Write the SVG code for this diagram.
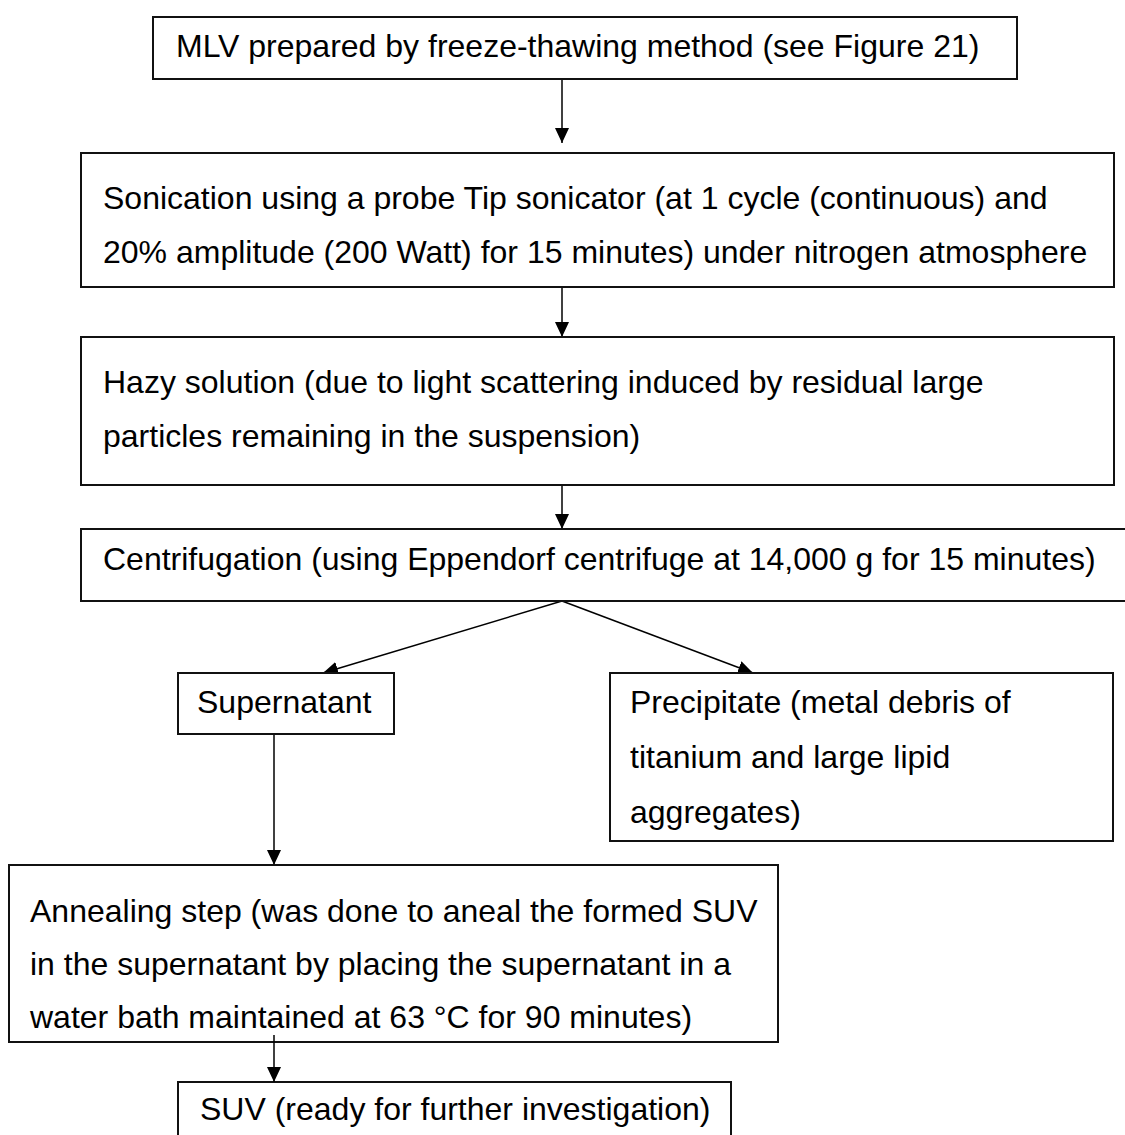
<svg xmlns="http://www.w3.org/2000/svg" width="1125" height="1135" viewBox="0 0 1125 1135">
<style>
.box{fill:#fff;stroke:#111;stroke-width:2}
.t{font-family:"Liberation Sans",Arial,sans-serif;font-size:32px;fill:#000}
.c{stroke:#000;stroke-width:1.5;fill:none;marker-end:url(#ah)}
</style>
<defs>
<marker id="ah" markerUnits="userSpaceOnUse" markerWidth="16" markerHeight="16" viewBox="0 0 16 16" refX="15" refY="8" orient="auto">
<path d="M0,1 L15,8 L0,15 z" fill="#000"/>
</marker>
</defs>
<rect width="1125" height="1135" fill="#fff"/>
<g id="connectors">
<line class="c" x1="562" y1="79" x2="562" y2="143"/>
<line class="c" x1="562" y1="287" x2="562" y2="337"/>
<line class="c" x1="562" y1="485" x2="562" y2="529"/>
<line class="c" x1="562" y1="601" x2="323" y2="673"/>
<line class="c" x1="562" y1="601" x2="753" y2="673"/>
<line class="c" x1="274" y1="734" x2="274" y2="865"/>
</g>
<g id="n1"><rect class="box" x="153" y="17" width="864" height="62"/><text class="t" x="176" y="57">MLV prepared by freeze-thawing method (see Figure 21)</text></g>
<g id="n2"><rect class="box" x="81" y="153" width="1033" height="134"/><text class="t" x="103" y="209">Sonication using a probe Tip sonicator (at 1 cycle (continuous) and</text><text class="t" x="103" y="263">20% amplitude (200 Watt) for 15 minutes) under nitrogen atmosphere</text></g>
<g id="n3"><rect class="box" x="81" y="337" width="1033" height="148"/><text class="t" x="103" y="393">Hazy solution (due to light scattering induced by residual large</text><text class="t" x="103" y="447">particles remaining in the suspension)</text></g>
<g id="n4"><rect class="box" x="81" y="529" width="1060" height="72"/><text class="t" x="103" y="570">Centrifugation (using Eppendorf centrifuge at 14,000 g for 15 minutes)</text></g>
<g id="n5"><rect class="box" x="178" y="673" width="216" height="61"/><text class="t" x="197" y="713">Supernatant</text></g>
<g id="n6"><rect class="box" x="610" y="673" width="503" height="168"/><text class="t" x="630" y="713">Precipitate (metal debris of</text><text class="t" x="630" y="768">titanium and large lipid</text><text class="t" x="630" y="823">aggregates)</text></g>
<g id="n7"><rect class="box" x="9" y="865" width="769" height="177"/><text class="t" x="30" y="922">Annealing step (was done to aneal the formed SUV</text><text class="t" x="30" y="975">in the supernatant by placing the supernatant in a</text><text class="t" x="30" y="1028">water bath maintained at 63 °C for 90 minutes)</text></g>
<g id="n8"><rect class="box" x="178" y="1082" width="553" height="70"/><text class="t" x="200" y="1120">SUV (ready for further investigation)</text></g>
<g id="connectors-over">
<line class="c" x1="274" y1="1035" x2="274" y2="1082"/>
</g>
</svg>
